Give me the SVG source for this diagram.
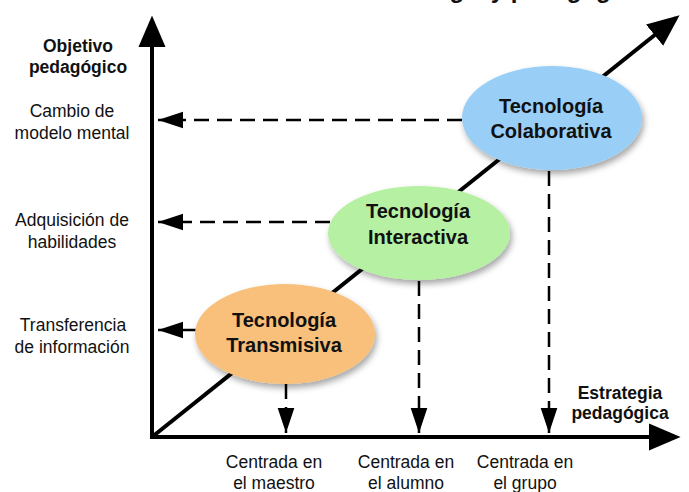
<svg xmlns="http://www.w3.org/2000/svg" width="689" height="492" viewBox="0 0 689 492">
<defs>
<style>
.lbl{font-family:"Liberation Sans",Arial,sans-serif;font-size:17.5px;fill:#111;text-anchor:middle}
.b{font-weight:bold}
.nt{font-family:"Liberation Sans",Arial,sans-serif;font-size:20px;font-weight:bold;fill:#111;text-anchor:middle}
.axis{stroke:#000;stroke-width:4;fill:none}
.dash{stroke:#000;stroke-width:2.5;fill:none;stroke-dasharray:15 8}
</style>
<marker id="big" markerWidth="8" markerHeight="8" refX="6" refY="3" orient="auto" markerUnits="strokeWidth" viewBox="0 0 7 6">
<path d="M0,0 L7,3 L0,6 Z" fill="#000"/>
</marker>
<marker id="sm" markerWidth="10" markerHeight="8" refX="9" refY="3" orient="auto" markerUnits="strokeWidth" viewBox="0 0 9 6">
<path d="M0,0 L9,3 L0,6 Z" fill="#000"/>
</marker>
<filter id="sh" x="-20%" y="-20%" width="140%" height="150%">
<feDropShadow dx="2" dy="4" stdDeviation="3" flood-color="#000" flood-opacity="0.35"/>
</filter>
</defs>
<text class="nt" x="495" y="-2" style="font-size:24px">Tecnología y pedagogía</text>
<g id="connectors">
<line class="axis" x1="152" y1="437" x2="152" y2="20" marker-end="url(#big)"/>
<line class="axis" x1="150" y1="437" x2="676" y2="437" marker-end="url(#big)"/>
<line class="axis" x1="152" y1="437" x2="676" y2="18" marker-end="url(#big)"/>
<line class="dash" x1="462" y1="120" x2="158" y2="120" marker-end="url(#sm)"/>
<line class="dash" x1="330" y1="222" x2="158" y2="222" marker-end="url(#sm)"/>
<line class="dash" style="stroke-dasharray:none" x1="196" y1="330" x2="158" y2="330" marker-end="url(#sm)"/>
<line class="dash" x1="286" y1="384" x2="286" y2="433" marker-end="url(#sm)"/>
<line class="dash" x1="419" y1="281" x2="419" y2="433" marker-end="url(#sm)"/>
<line class="dash" x1="549" y1="171" x2="549" y2="433" marker-end="url(#sm)"/>
</g>
<g id="node-transmisiva">
<ellipse cx="285" cy="334" rx="90" ry="50" fill="#F8C07A" filter="url(#sh)"/>
<text class="nt" x="284" y="327">Tecnología</text>
<text class="nt" x="284" y="352">Transmisiva</text>
</g>
<g id="node-interactiva">
<ellipse cx="419" cy="233" rx="91" ry="47" fill="#B6F0A2" filter="url(#sh)"/>
<text class="nt" x="418" y="218">Tecnología</text>
<text class="nt" x="418" y="244">Interactiva</text>
</g>
<g id="node-colaborativa">
<ellipse cx="552" cy="118" rx="90" ry="52" fill="#99CFF7" filter="url(#sh)"/>
<text class="nt" x="551" y="113">Tecnología</text>
<text class="nt" x="551" y="138">Colaborativa</text>
</g>
<g id="labels">
<text class="lbl b" x="78" y="52">Objetivo</text>
<text class="lbl b" x="78" y="73">pedagógico</text>
<text class="lbl" x="72" y="117">Cambio de</text>
<text class="lbl" x="72" y="139">modelo mental</text>
<text class="lbl" x="72" y="226">Adquisición de</text>
<text class="lbl" x="72" y="248">habilidades</text>
<text class="lbl" x="73" y="331">Transferencia</text>
<text class="lbl" x="72" y="353">de información</text>
<text class="lbl b" x="620" y="399">Estrategia</text>
<text class="lbl b" x="620" y="419">pedagógica</text>
<text class="lbl" x="274" y="468">Centrada en</text>
<text class="lbl" x="274" y="489">el maestro</text>
<text class="lbl" x="406" y="468">Centrada en</text>
<text class="lbl" x="406" y="489">el alumno</text>
<text class="lbl" x="525" y="468">Centrada en</text>
<text class="lbl" x="525" y="489">el grupo</text>
</g>
</svg>
